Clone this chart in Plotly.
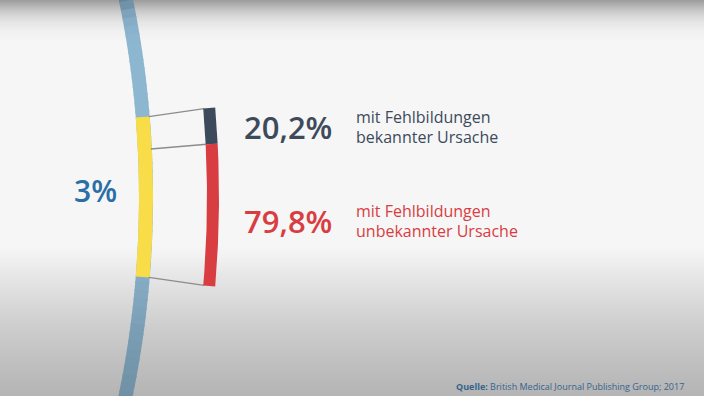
import numpy as np
import plotly.graph_objects as go

# ---------------- data ----------------
total_label = "3%"
total_share = 3.0                      # percent of all births
categories = ["mit Fehlbildungen|bekannter Ursache",
              "mit Fehlbildungen|unbekannter Ursache"]
shares = [20.2, 79.8]                 # percent of the 3 %
share_labels = ["20,2%", "79,8%"]
source_bold = "Quelle:"
source_text = "British Medical Journal Publishing Group; 2017"

# ---------------- style / geometry ----------------
W, H = 704, 396
FONT = "Open Sans"
BLUE_TXT = "#2b6ea7"
COLORS = ["#3c4a5c", "#d83d42"]
TXT_COLORS = ["#3d4a5c", "#d83d42"]
YELLOW = "#f8dd48"
ARC_BLUE = np.array([141, 182, 208])

R_IN = 980.0          # radius of the big circle (centre line)
CY = 197.0
CX = 146.0 - R_IN
ARC_W = 14.0
R_BAR = R_IN + 67.0
BAR_W = 12.0
DEG_PER_PCT = 3.12    # visual angular scale of the big circle
BAR_DEG = 9.74        # angular span of the zoom bar (100 %)

# background brightness profile (vignette top / bottom)
bg_y = [-10, 0, 5, 10, 15, 22, 30, 42, 245, 255, 270, 300, 330, 360, 396, 406]
bg_v = [0.60, 0.62, 0.70, 0.78, 0.84, 0.90, 0.94, 0.965, 0.965, 0.95, 0.915, 0.855, 0.80, 0.755, 0.705, 0.70]


def bg_at(y):
    return float(np.interp(y, bg_y, bg_v))


def arc_poly(r0, r1, a0, a1, n=40):
    a = np.radians(np.linspace(a0, a1, n))
    xs = np.concatenate([CX + r0 * np.cos(a), CX + r1 * np.cos(a[::-1])])
    ys = np.concatenate([CY + r0 * np.sin(a), CY + r1 * np.sin(a[::-1])])
    return np.append(xs, xs[0]), np.append(ys, ys[0])


def polar_pt(r, deg):
    a = np.radians(deg)
    return CX + r * np.cos(a), CY + r * np.sin(a)


fig = go.Figure()

# background gradient
ys = np.arange(-10, 408, 2)
zs = np.interp(ys, bg_y, bg_v)
fig.add_trace(go.Heatmap(
    x=[-10, W + 10], y=ys, z=[[v, v] for v in zs],
    colorscale=[[0, "rgb(0,0,0)"], [1, "rgb(255,255,255)"]],
    zmin=0, zmax=1, showscale=False, hoverinfo="skip", zsmooth="best"))

# big blue circle arc (shaded by the vignette)
seg = np.linspace(-13.5, 13.5, 55)
for a0, a1 in zip(seg[:-1], seg[1:]):
    ym = CY + R_IN * np.sin(np.radians((a0 + a1) / 2))
    f = bg_at(ym) / 0.965
    c = np.clip(ARC_BLUE * (0.25 + 0.75 * f), 0, 255).astype(int)
    xs_, ys_ = arc_poly(R_IN - ARC_W / 2, R_IN + ARC_W / 2, a0 - 0.05, a1 + 0.05, 6)
    fig.add_trace(go.Scatter(x=xs_, y=ys_, mode="lines", fill="toself",
                             fillcolor=f"rgb({c[0]},{c[1]},{c[2]})",
                             line=dict(width=0), hoverinfo="skip", showlegend=False))

# yellow segment = total share
y_span = total_share * DEG_PER_PCT
y0 = -y_span / 2
xs_, ys_ = arc_poly(R_IN - ARC_W / 2, R_IN + ARC_W / 2, y0, y0 + y_span)
fig.add_trace(go.Scatter(x=xs_, y=ys_, mode="lines", fill="toself", fillcolor=YELLOW,
                         line=dict(width=0), hoverinfo="skip", showlegend=False))

# connector lines at cumulative fractions
cum = np.concatenate([[0.0], np.cumsum(shares) / np.sum(shares)])
b0 = -BAR_DEG / 2
for f in cum:
    xa, ya = polar_pt(R_IN + ARC_W / 2 - 1, y0 + f * y_span)
    xb, yb = polar_pt(R_BAR - BAR_W / 2 + 1, b0 + f * BAR_DEG)
    fig.add_trace(go.Scatter(x=[xa, xb], y=[ya, yb], mode="lines",
                             line=dict(color="#8c8c8c", width=1.3),
                             hoverinfo="skip", showlegend=False))

# zoom bar split into shares
for i in range(len(shares)):
    a0 = b0 + cum[i] * BAR_DEG
    a1 = b0 + cum[i + 1] * BAR_DEG
    xs_, ys_ = arc_poly(R_BAR - BAR_W / 2, R_BAR + BAR_W / 2, a0, a1)
    fig.add_trace(go.Scatter(x=xs_, y=ys_, mode="lines", fill="toself",
                             fillcolor=COLORS[i], line=dict(width=0),
                             hoverinfo="skip", showlegend=False))

ann = []
ann.append(dict(x=95, y=190, text=total_label, showarrow=False, xanchor="center",
                yanchor="middle", font=dict(family=FONT, size=30, color=BLUE_TXT, weight=600)))
label_y = [127, 221]
for i in range(len(shares)):
    ann.append(dict(x=242, y=label_y[i], text=share_labels[i], showarrow=False,
                    xanchor="left", yanchor="middle",
                    font=dict(family=FONT, size=31, color=TXT_COLORS[i], weight=600)))
    l1, l2 = categories[i].split("|")
    ann.append(dict(x=354, y=label_y[i] - 10, text=l1, showarrow=False, xanchor="left",
                    yanchor="middle", font=dict(family=FONT, size=16, color=TXT_COLORS[i])))
    ann.append(dict(x=354, y=label_y[i] + 9.5, text=l2, showarrow=False, xanchor="left",
                    yanchor="middle", font=dict(family=FONT, size=16, color=TXT_COLORS[i])))

ann.append(dict(x=686, y=386, showarrow=False, xanchor="right", yanchor="middle",
                text=f"<b>{source_bold}</b> {source_text}",
                font=dict(family=FONT, size=9, color="#36648c")))

fig.update_layout(
    width=W, height=H, margin=dict(l=0, r=0, t=0, b=0),
    paper_bgcolor="#f5f5f5", plot_bgcolor="#f5f5f5",
    xaxis=dict(range=[0, W], visible=False, fixedrange=True),
    yaxis=dict(range=[H, 0], visible=False, fixedrange=True),
    showlegend=False, annotations=ann)

fig.write_html("out.html", config={"displayModeBar": False},
               post_script="document.body.style.margin='0';document.body.style.padding='0';"
                           "document.body.style.overflow='hidden';")
